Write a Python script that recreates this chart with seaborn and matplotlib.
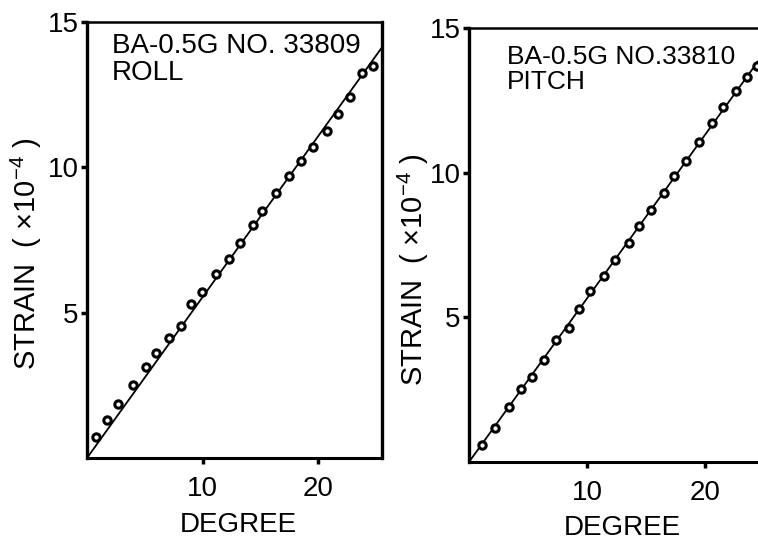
import numpy as np
import pandas as pd
import matplotlib
matplotlib.use("Agg")
import matplotlib.pyplot as plt
import seaborn as sns

# Calibration readings: tilt angle (degree) vs. strain (x10^-4)
roll_degree = [0.80, 1.71, 2.67, 3.97, 5.06, 5.99, 7.06, 8.16, 9.02, 9.97, 11.19, 12.28,
               13.26, 14.35, 15.17, 16.38, 17.42, 18.51, 19.55, 20.71, 21.71, 22.73, 23.74, 24.74]
roll_strain = [0.73, 1.31, 1.86, 2.50, 3.12, 3.60, 4.14, 4.55, 5.29, 5.72, 6.34, 6.84,
               7.39, 8.02, 8.50, 9.11, 9.71, 10.22, 10.71, 11.26, 11.82, 12.42, 13.23, 13.50]

pitch_degree = [1.13, 2.17, 3.38, 4.43, 5.36, 6.34, 7.33, 8.45, 9.30, 10.23, 11.47, 12.40,
                13.52, 14.37, 15.42, 16.48, 17.39, 18.40, 19.49, 20.58, 21.56, 22.63, 23.53, 24.38]
pitch_strain = [0.59, 1.17, 1.89, 2.52, 2.94, 3.52, 4.20, 4.64, 5.30, 5.91, 6.43, 6.98,
                7.56, 8.14, 8.72, 9.30, 9.87, 10.41, 11.07, 11.70, 12.28, 12.83, 13.30, 13.67]

roll_title = "BA-0.5G NO. 33809\nROLL"
pitch_title = "BA-0.5G NO.33810\nPITCH"

x_ticks = [10, 20]
y_ticks = [5, 10, 15]
x_max = 25.5
y_max = 15

sns.set_style("ticks")
plt.rcParams["font.family"] = ["Liberation Sans", "DejaVu Sans"]
plt.rcParams["mathtext.default"] = "regular"
plt.rcParams["text.color"] = "black"
plt.rcParams["axes.labelcolor"] = "black"

W, H = 758, 544
fig = plt.figure(figsize=(W / 100, H / 100), dpi=100)
fig.patch.set_facecolor("white")

ax_l = fig.add_axes([87 / W, (H - 458) / H, 295 / W, 436 / H])
ax_r = fig.add_axes([469 / W, (H - 462) / H, 301 / W, 434 / H])


def draw_panel(ax, degree, strain, title, title_pos, title_size, xlab_pos, ylab_pos):
    df = pd.DataFrame({"degree": degree, "strain": strain})
    # least-squares line through the origin
    x = np.asarray(degree)
    y = np.asarray(strain)
    slope = np.dot(x, y) / np.dot(x, x)
    fit = pd.DataFrame({"degree": [0.0, x_max], "strain": [0.0, slope * x_max]})

    sns.lineplot(data=fit, x="degree", y="strain", ax=ax, color="black", linewidth=1.3)
    sns.scatterplot(data=df, x="degree", y="strain", ax=ax, s=28, marker="o",
                    facecolor="white", edgecolor="black", linewidth=2.2, zorder=3)

    ax.set_xlim(0, x_max)
    ax.set_ylim(0, y_max)
    ax.set_xticks(x_ticks)
    ax.set_yticks(y_ticks)
    ax.set_xticklabels([str(t) for t in x_ticks])
    ax.set_yticklabels([str(t) for t in y_ticks])
    ax.tick_params(axis="both", direction="out", length=4, width=2.5, labelsize=20,
                   color="black", labelcolor="black")
    ax.tick_params(axis="x", pad=9)
    ax.tick_params(axis="y", pad=2)

    for side, lw in (("left", 2.4), ("bottom", 2.2), ("right", 2.4), ("top", 1.8)):
        ax.spines[side].set_visible(True)
        ax.spines[side].set_linewidth(lw)
        ax.spines[side].set_color("black")

    ax.set_xlabel("DEGREE", fontsize=20, color="black")
    ax.set_ylabel("STRAIN  ( \u00d710$^{-4}$ )", fontsize=21, color="black")
    ax.xaxis.set_label_coords(*xlab_pos)
    ax.yaxis.set_label_coords(*ylab_pos)

    ax.text(title_pos[0], title_pos[1], title, transform=ax.transAxes,
            ha="left", va="top", fontsize=title_size, linespacing=1.05, color="black")
    ax.set_facecolor("white")


draw_panel(ax_l, roll_degree, roll_strain, roll_title, (0.085, 0.975), 20,
           (0.512, -0.125), (-0.145, 0.468))
draw_panel(ax_r, pitch_degree, pitch_strain, pitch_title, (0.125, 0.96), 19,
           (0.508, -0.122), (-0.125, 0.442))

fig.savefig("out.png", dpi=100, facecolor="white")
